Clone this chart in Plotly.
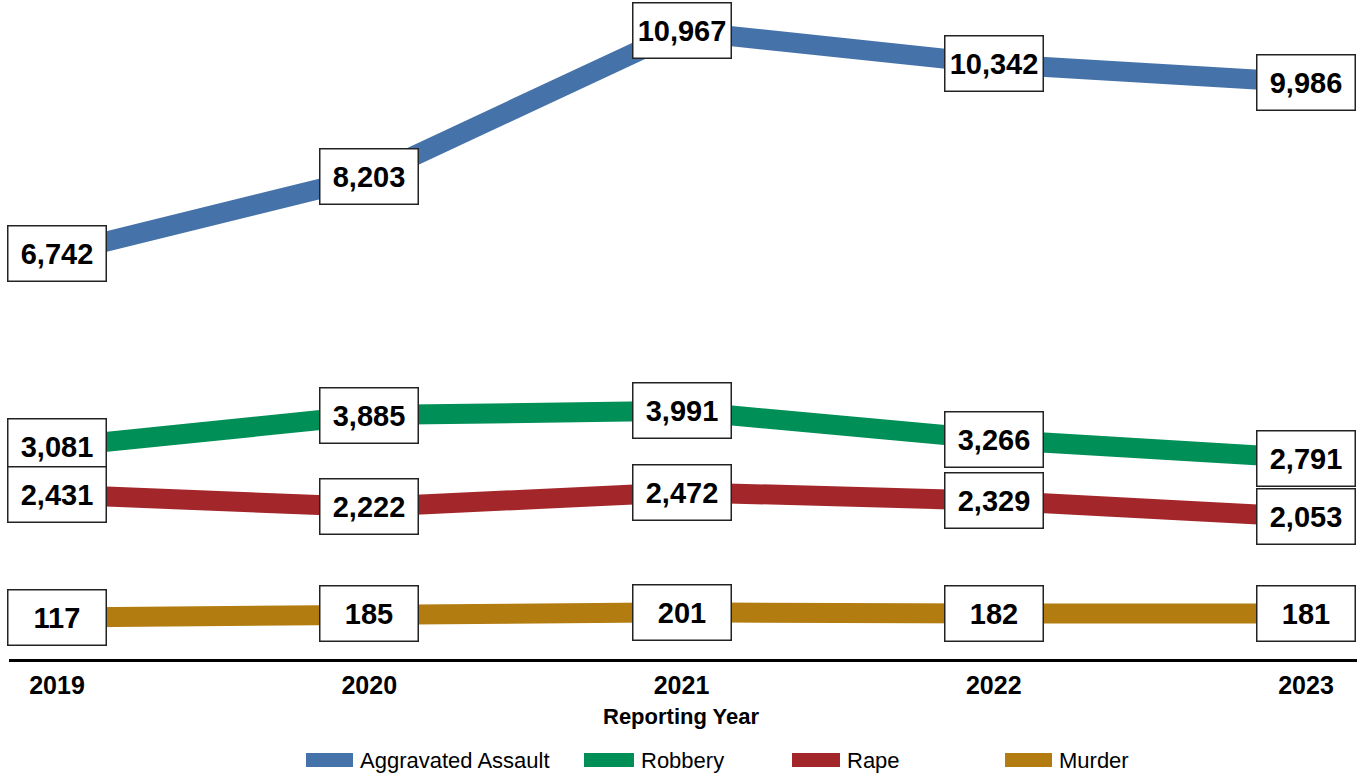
import plotly.graph_objects as go

# ---- data ----
years = [2019, 2020, 2021, 2022, 2023]
series_names = ["Aggravated Assault", "Robbery", "Rape", "Murder"]
assault = [6742, 8203, 10967, 10342, 9986]
robbery = [3081, 3885, 3991, 3266, 2791]
rape = [2431, 2222, 2472, 2329, 2053]
murder = [117, 185, 201, 182, 181]
x_title = "Reporting Year"

series_values = [assault, robbery, rape, murder]

# ---- style ----
colors = ["#4573A9", "#008F56", "#A3262A", "#B37C10"]
# each series is drawn on its own hidden y axis (broken-axis look)
y_ranges = [[-940, 11363], [-2281, 14124], [-351, 10632], [-565, 10093]]
FONT = "Liberation Sans, Arial, sans-serif"

W, H = 1357, 777
M_L, M_R, M_T, M_B = 9, 0, 10, 118
plot_w = W - M_L - M_R
plot_h = H - M_T - M_B


def px_to_paper_x(px):
    return (px - M_L) / plot_w


def px_to_paper_y(py):
    return (H - M_B - py) / plot_h


fig = go.Figure()
axis_ids = ["y", "y2", "y3", "y4"]

for name, vals, col, ax in zip(series_names, series_values, colors, axis_ids):
    fig.add_trace(go.Scatter(
        x=years, y=vals, name=name, mode="lines", yaxis=ax,
        line=dict(color=col, width=20), showlegend=False,
        hoverinfo="x+y+name",
    ))

annotations = []
for vals, ax in zip(series_values, axis_ids):
    for yr, v in zip(years, vals):
        annotations.append(dict(
            x=yr, y=v, xref="x", yref=ax, text=f"{v:,}", showarrow=False,
            font=dict(family=FONT, size=29, color="black", weight="bold"),
            bgcolor="white", bordercolor="#222222", borderwidth=1.5,
            borderpad=1, width=95, height=52, align="center",
            xanchor="center", yanchor="middle",
        ))

# manual legend (swatch rectangles + labels)
legend_swatch_px = [(306, 353), (584, 634), (792, 840), (1005, 1052)]
shapes = []
for (x0, x1), col, name in zip(legend_swatch_px, colors, series_names):
    shapes.append(dict(
        type="rect", xref="paper", yref="paper",
        x0=px_to_paper_x(x0), x1=px_to_paper_x(x1),
        y0=px_to_paper_y(767), y1=px_to_paper_y(753),
        fillcolor=col, line=dict(width=0),
    ))
    annotations.append(dict(
        x=px_to_paper_x(x1 + 5), y=px_to_paper_y(760), xref="paper", yref="paper",
        text=name, showarrow=False, xanchor="left", yanchor="middle",
        font=dict(family=FONT, size=22, color="black"),
    ))

annotations.append(dict(
    x=0.5 * (years[0] + years[-1]), y=px_to_paper_y(717), xref="x", yref="paper",
    text=x_title, showarrow=False, xanchor="center", yanchor="middle",
    font=dict(family=FONT, size=22, color="black", weight="bold"),
))

step = 312.25
x_range = [years[0] - 48 / step, years[-1] + 51 / step]

layout_axes = {}
for i, (ax, rng) in enumerate(zip(axis_ids, y_ranges)):
    key = "yaxis" if i == 0 else f"yaxis{i + 1}"
    d = dict(range=rng, visible=False, fixedrange=True)
    if i > 0:
        d["overlaying"] = "y"
    layout_axes[key] = d

fig.update_layout(
    width=W, height=H,
    margin=dict(l=M_L, r=M_R, t=M_T, b=M_B),
    paper_bgcolor="white", plot_bgcolor="white",
    xaxis=dict(
        range=x_range, tickvals=years, ticktext=[str(y) for y in years],
        showgrid=False, zeroline=False, showline=True, linecolor="black",
        linewidth=3, ticks="", ticklabelstandoff=2,
        tickfont=dict(family=FONT, size=25, color="black", weight="bold"),
        fixedrange=True,
    ),
    annotations=annotations,
    shapes=shapes,
    showlegend=False,
    **layout_axes,
)

fig.write_html(
    "out.html",
    config={"displayModeBar": False},
    post_script="document.body.style.margin='0';document.body.style.overflow='hidden';",
)
